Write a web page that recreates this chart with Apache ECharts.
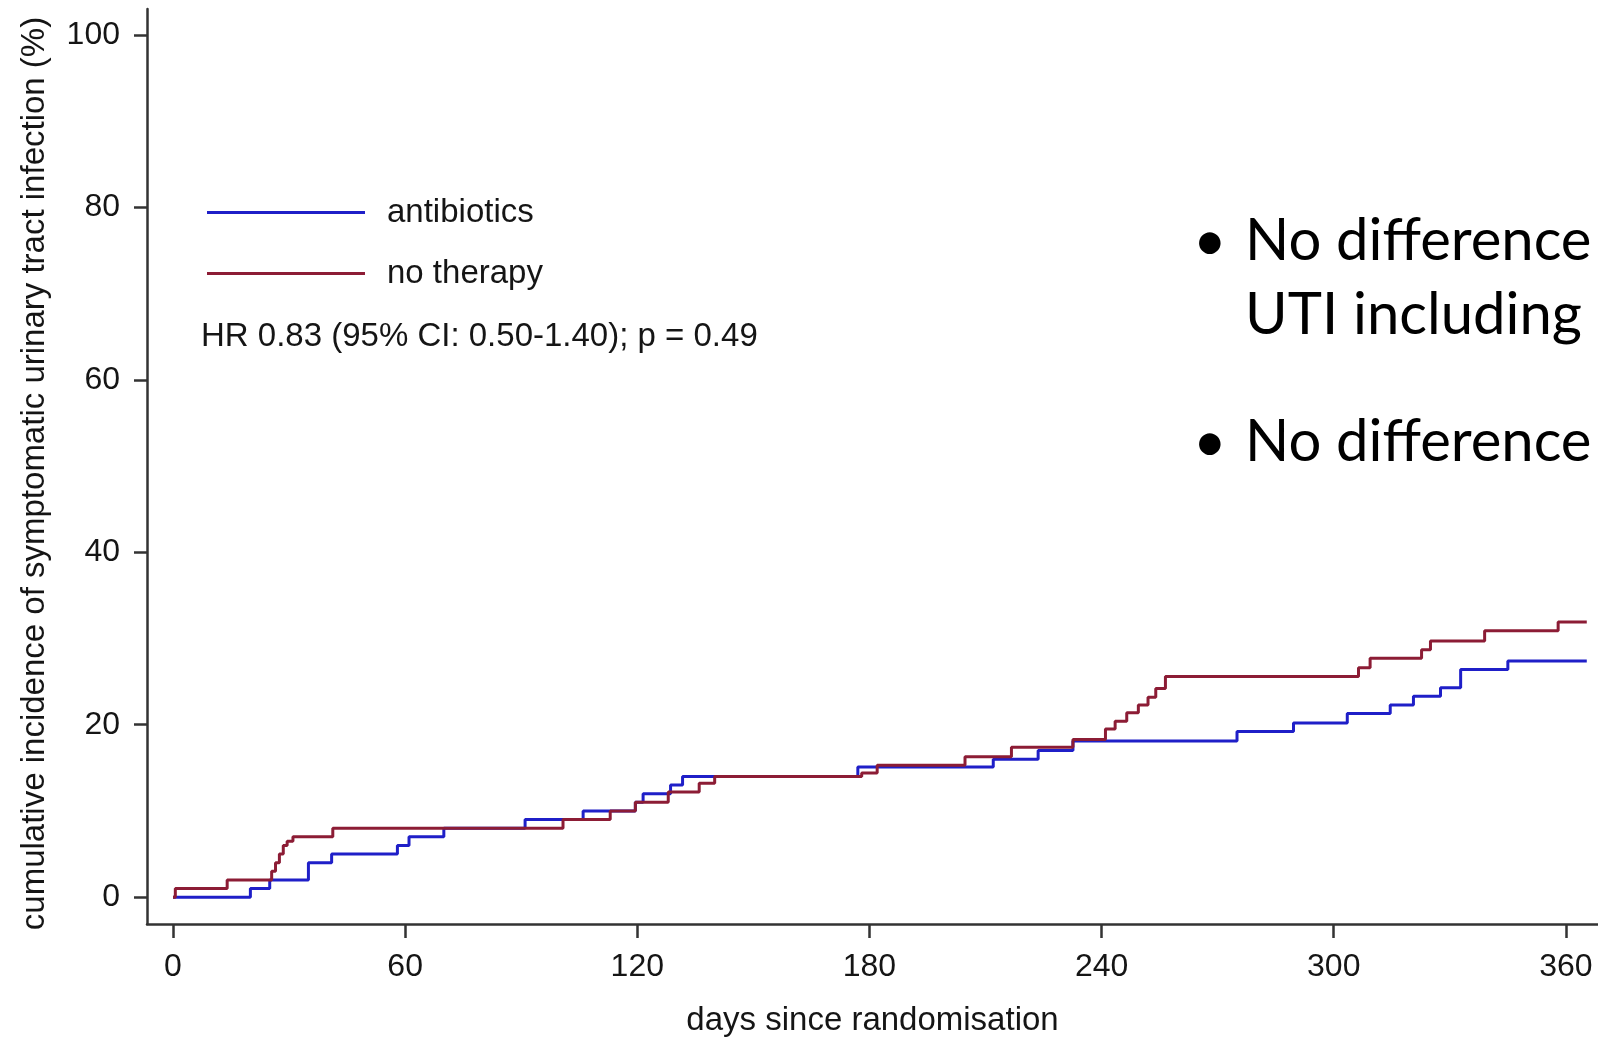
<!DOCTYPE html>
<html><head><meta charset="utf-8">
<script src="https://cdn.jsdelivr.net/npm/echarts@6/dist/echarts.min.js"></script>
<style>html,body{margin:0;padding:0;background:#fff;}#chart{width:1598px;height:1042px;}</style>
</head><body><div id="chart"></div>
<script>
// ---- data ----
const xTicks = [0, 60, 120, 180, 240, 300, 360];
const yTicks = [0, 20, 40, 60, 80, 100];
const seriesNames = ['antibiotics', 'no therapy'];

// Kaplan-Meier style cumulative incidence (step changes: day -> %)
const antibioticsDays = [0, 20, 25, 35, 41, 58, 61, 70, 91, 106, 119.5, 121.5, 128.6, 131.7, 177, 212, 223.6, 232.6, 275, 289.6, 303.5, 314.6, 320.6, 327.6, 332.8, 345, 365.4];
const antibioticsPct  = [0, 1, 2, 4, 5, 6, 7, 8, 9, 10, 11, 12, 13, 14, 15.1, 16, 17, 18.1, 19.2, 20.2, 21.3, 22.3, 23.3, 24.3, 26.4, 27.4, 27.4];

const noTherapyDays = [0, 0.6, 14, 25.5, 26.5, 27.5, 28.5, 29.5, 31, 41.3, 100.8, 113, 119.5, 128, 136, 140, 178, 182, 204.7, 216.7, 232.6, 241, 243.5, 246.5, 249.5, 252, 254, 256.5, 306.4, 309.4, 322.7, 325, 339, 358, 365.4];
const noTherapyPct  = [0, 1, 2, 3, 4, 5, 6, 6.5, 7, 8, 9, 10, 11, 12.2, 13.2, 14, 14.4, 15.3, 16.3, 17.4, 18.3, 19.5, 20.4, 21.4, 22.3, 23.2, 24.2, 25.6, 26.6, 27.7, 28.7, 29.7, 30.9, 31.9, 31.9];

const annotationText = 'HR 0.83 (95% CI: 0.50-1.40); p = 0.49';
const bulletLines = ['No difference', 'UTI including', 'No difference'];
const xAxisTitle = 'days since randomisation';
const yAxisTitle = 'cumulative incidence of symptomatic urinary tract infection (%)';

// ---- chart ----
const pairs = (xs, ys) => xs.map((x, i) => [x, ys[i]]);
const FONT = '"Liberation Sans", Arial, Helvetica, sans-serif';
const TXT = '#151515';
const AX = '#333';
const BFONT = '58px Lato, "Open Sans", sans-serif';

const chart = echarts.init(document.getElementById('chart'), null, {renderer: 'canvas'});
chart.setOption({
  animation: false,
  backgroundColor: '#fff',
  grid: {left: 147, right: 0, top: 9, bottom: 111, containLabel: false},
  legend: {
    orient: 'vertical', left: 202, top: 190,
    icon: 'rect', itemWidth: 158, itemHeight: 3, itemGap: 26,
    textStyle: {fontFamily: FONT, fontSize: 33, color: TXT, padding: [0, 0, 0, 17], lineHeight: 35},
    data: seriesNames
  },
  xAxis: {
    type: 'value', min: -6.72, max: 368.3,
    name: xAxisTitle, nameLocation: 'middle', nameGap: 80,
    nameTextStyle: {fontFamily: FONT, fontSize: 33, color: TXT},
    axisLine: {show: true, onZero: false, lineStyle: {color: AX, width: 2.5}},
    axisTick: {show: true, customValues: xTicks, length: 14, lineStyle: {color: AX, width: 2.5}},
    axisLabel: {customValues: xTicks, fontFamily: FONT, fontSize: 32, color: TXT, margin: 27},
    splitLine: {show: false}
  },
  yAxis: {
    type: 'value', min: -3.11, max: 103.0,
    name: yAxisTitle, nameLocation: 'middle', nameGap: 96, nameRotate: 90,
    nameTextStyle: {fontFamily: FONT, fontSize: 33, color: TXT, padding: [0, 14, 0, 0]},
    axisLine: {show: true, onZero: false, lineStyle: {color: AX, width: 2.5}},
    axisTick: {show: true, customValues: yTicks, length: 13, lineStyle: {color: AX, width: 2.5}},
    axisLabel: {customValues: yTicks, fontFamily: FONT, fontSize: 32, color: TXT, margin: 27},
    splitLine: {show: false}
  },
  series: [
    {name: seriesNames[0], type: 'line', step: 'end', symbol: 'none',
     lineStyle: {color: '#1f1fc8', width: 3}, itemStyle: {color: '#1f1fc8'},
     data: pairs(antibioticsDays, antibioticsPct)},
    {name: seriesNames[1], type: 'line', step: 'end', symbol: 'none',
     lineStyle: {color: '#8c1c35', width: 3}, itemStyle: {color: '#8c1c35'},
     data: pairs(noTherapyDays, noTherapyPct)}
  ],
  graphic: [
    {type: 'text', left: 201, top: 320,
     style: {text: annotationText, font: '33px ' + FONT, fill: TXT}},
    {type: 'text', left: 1193, top: 213,
     style: {text: '\u2022', font: BFONT, fill: '#000'}},
    {type: 'text', left: 1245, top: 212,
     style: {text: bulletLines[0], font: BFONT, fill: '#000'}},
    {type: 'text', left: 1245, top: 286,
     style: {text: bulletLines[1], font: BFONT, fill: '#000'}},
    {type: 'text', left: 1193, top: 414,
     style: {text: '\u2022', font: BFONT, fill: '#000'}},
    {type: 'text', left: 1245, top: 413,
     style: {text: bulletLines[2], font: BFONT, fill: '#000'}}
  ]
});
</script></body></html>
